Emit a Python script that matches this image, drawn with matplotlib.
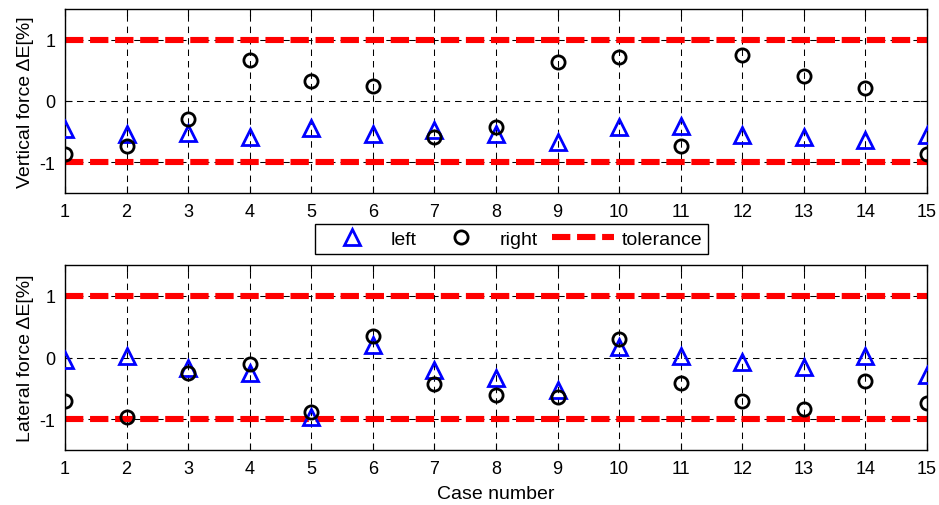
import matplotlib
matplotlib.use("Agg")
import matplotlib.pyplot as plt
import numpy as np

plt.rcParams['font.family'] = ['Liberation Sans', 'DejaVu Sans']
plt.rcParams['axes.unicode_minus'] = False

cases = list(range(1, 16))

vert_left = [-0.45, -0.54, -0.52, -0.58, -0.44, -0.53, -0.48, -0.53, -0.67, -0.43,
             -0.40, -0.56, -0.58, -0.63, -0.56]
vert_right = [-0.86, -0.73, -0.30, 0.67, 0.32, 0.25, -0.58, -0.42, 0.64, 0.72,
              -0.73, 0.75, 0.40, 0.22, -0.87]

lat_left = [-0.04, 0.02, -0.17, -0.25, -0.97, 0.21, -0.20, -0.34, -0.53, 0.17,
            0.03, -0.07, -0.15, 0.02, -0.29]
lat_right = [-0.70, -0.97, -0.25, -0.11, -0.88, 0.35, -0.43, -0.61, -0.64, 0.30,
             -0.41, -0.70, -0.83, -0.38, -0.73]

tolerance = [1.0, -1.0]

W, H = 939, 506
fig = plt.figure(figsize=(W / 100, H / 100), dpi=100)

def axes_px(left, top, right, bottom):
    return fig.add_axes([left / W, 1 - bottom / H, (right - left) / W, (bottom - top) / H])

ax1 = axes_px(65, 10, 927, 194)
ax2 = axes_px(65, 266, 927, 451)

def draw(ax, left, right, ylabel):
    for t in tolerance:
        tol, = ax.plot([cases[0], cases[-1]], [t, t], color='red', lw=4.4,
                       dashes=(3.0, 1.1), zorder=2)
    l, = ax.plot(cases, left, linestyle='none', marker='^', markersize=12,
                 markerfacecolor='none', markeredgecolor='blue', markeredgewidth=2, zorder=3)
    r, = ax.plot(cases, right, linestyle='none', marker='o', markersize=9.5,
                 markerfacecolor='none', markeredgecolor='black', markeredgewidth=2, zorder=4)
    ax.set_xlim(1, 15)
    ax.set_ylim(-1.5, 1.5)
    ax.set_xticks(cases)
    ax.set_yticks([-1, 0, 1])
    ax.grid(True, color='black', linestyle=(0, (6.2, 4.8)), linewidth=0.75)
    ax.set_axisbelow(True)
    ax.tick_params(direction='in', top=True, right=True, labelsize=13, length=5, pad=7)
    ax.set_ylabel(ylabel, fontsize=14, labelpad=4)
    for s in ax.spines.values():
        s.set_linewidth(1.0)
    return l, r, tol

h1 = draw(ax1, vert_left, vert_right, 'Vertical force \u0394E[%]')
draw(ax2, lat_left, lat_right, 'Lateral force \u0394E[%]')
ax2.set_xlabel('Case number', fontsize=14, labelpad=6)

leg = fig.legend(h1, ['left', 'right', 'tolerance'], ncol=3, fontsize=14,
                 loc='center', bbox_to_anchor=(511.5 / W, 1 - 240 / H),
                 frameon=True, fancybox=False, edgecolor='black', framealpha=1,
                 handlelength=3.2, columnspacing=0.7, handletextpad=0.4,
                 borderpad=0.3)
leg.get_frame().set_linewidth(1.0)

fig.savefig('out.png', dpi=100)
